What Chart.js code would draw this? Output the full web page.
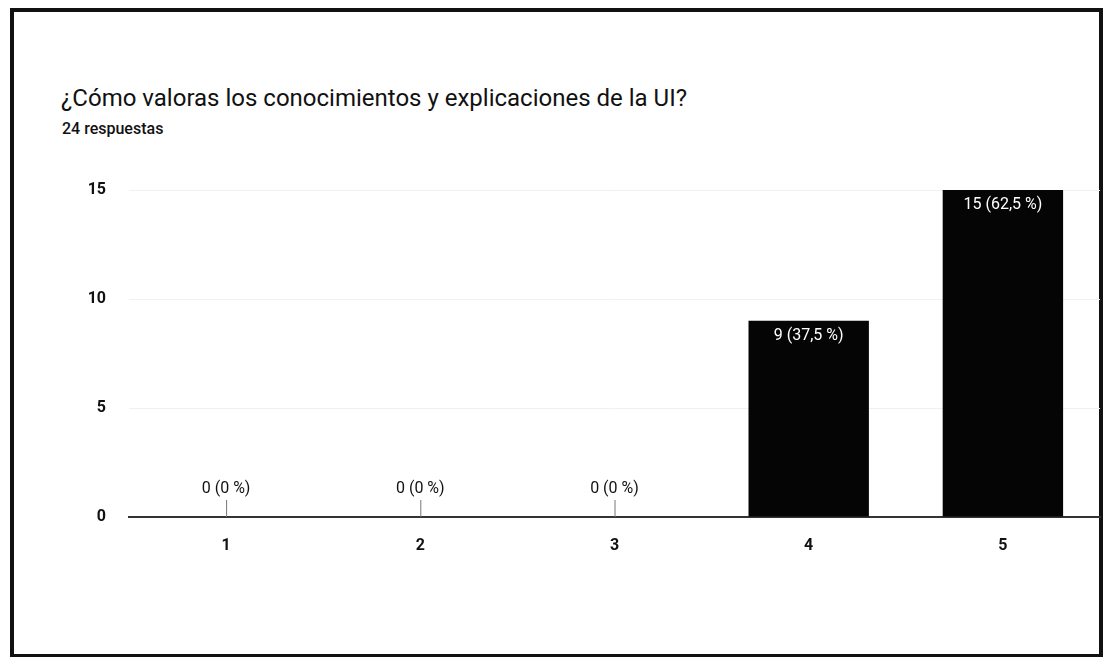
<!DOCTYPE html>
<html>
<head>
<meta charset="utf-8">
<script src="https://cdn.jsdelivr.net/npm/chart.js@4"></script>
<style>
  html, body { margin: 0; padding: 0; background: #fff; overflow: hidden; }
  #marco {
    position: absolute; left: 10px; top: 8px; width: 1085px; height: 642px;
    border: 4px solid #111; background: #fff;
  }
  #titulo {
    position: absolute; left: 61px; top: 84px; font-family: Roboto, sans-serif;
    font-size: 24px; color: #111; white-space: nowrap;
  }
  #respuestas {
    position: absolute; left: 62px; top: 119px; font-family: Roboto, sans-serif;
    font-size: 16px; font-weight: 500; color: #111;
  }
  #lienzo { position: absolute; left: 0; top: 0; }
</style>
</head>
<body>
<div id="marco"></div>
<div id="titulo">¿Cómo valoras los conocimientos y explicaciones de la UI?</div>
<div id="respuestas">24 respuestas</div>
<canvas id="lienzo" width="1104" height="657"></canvas>
<script>
// Datos del gráfico
var categorias = ['1', '2', '3', '4', '5'];
var respuestas = [0, 0, 0, 9, 15];
var marcasY = [0, 5, 10, 15];

var total = respuestas.reduce(function (a, b) { return a + b; }, 0);

function etiqueta(v) {
  var pct = total ? (v * 100 / total) : 0;
  var txt = (Math.round(pct * 10) / 10).toString().replace('.', ',');
  return v + ' (' + txt + ' %)';
}

// Etiquetas sobre las barras y marquitas de los valores cero
var pluginEtiquetas = {
  id: 'etiquetas',
  afterDatasetsDraw: function (chart) {
    var ctx = chart.ctx;
    var meta = chart.getDatasetMeta(0);
    var yCero = chart.scales.y.getPixelForValue(0);
    ctx.save();
    ctx.font = '16px Roboto, sans-serif';
    ctx.textAlign = 'center';
    meta.data.forEach(function (bar, i) {
      var v = respuestas[i];
      if (v === 0) {
        ctx.strokeStyle = '#777';
        ctx.lineWidth = 1;
        ctx.beginPath();
        ctx.moveTo(bar.x + 0.5, yCero);
        ctx.lineTo(bar.x + 0.5, yCero - 17);
        ctx.stroke();
        ctx.fillStyle = '#111';
        ctx.textBaseline = 'bottom';
        ctx.fillText(etiqueta(v), bar.x, yCero - 20);
      } else {
        ctx.fillStyle = '#fff';
        ctx.textBaseline = 'top';
        ctx.fillText(etiqueta(v), bar.x, bar.y + 7);
      }
    });
    ctx.restore();
  }
};

var ctx = document.getElementById('lienzo').getContext('2d');
var grafico = new Chart(ctx, {
  type: 'bar',
  data: {
    labels: categorias,
    datasets: [{
      data: respuestas,
      backgroundColor: '#050505',
      categoryPercentage: 1,
      barPercentage: 0.62
    }]
  },
  options: {
    responsive: false,
    animation: false,
    layout: { padding: { top: 190, right: 4, left: 0, bottom: 0 } },
    plugins: {
      legend: { display: false },
      tooltip: { enabled: false }
    },
    scales: {
      x: {
        grid: { display: false, drawTicks: false },
        border: { color: '#333', width: 2 },
        ticks: {
          padding: 19,
          color: '#111',
          font: { family: 'Roboto, sans-serif', size: 16, weight: 'bold' }
        },
        afterFit: function (s) { s.height = 140; }
      },
      y: {
        min: 0,
        max: 15,
        afterBuildTicks: function (s) { s.ticks = marcasY.map(function (v) { return { value: v }; }); },
        grid: { color: '#f0f0f0', drawTicks: false },
        border: { display: false },
        ticks: {
          padding: 23,
          color: '#111',
          font: { family: 'Roboto, sans-serif', size: 16, weight: 'bold' }
        },
        afterFit: function (s) { s.width = 129; }
      }
    }
  },
  plugins: [pluginEtiquetas]
});
</script>
</body>
</html>
